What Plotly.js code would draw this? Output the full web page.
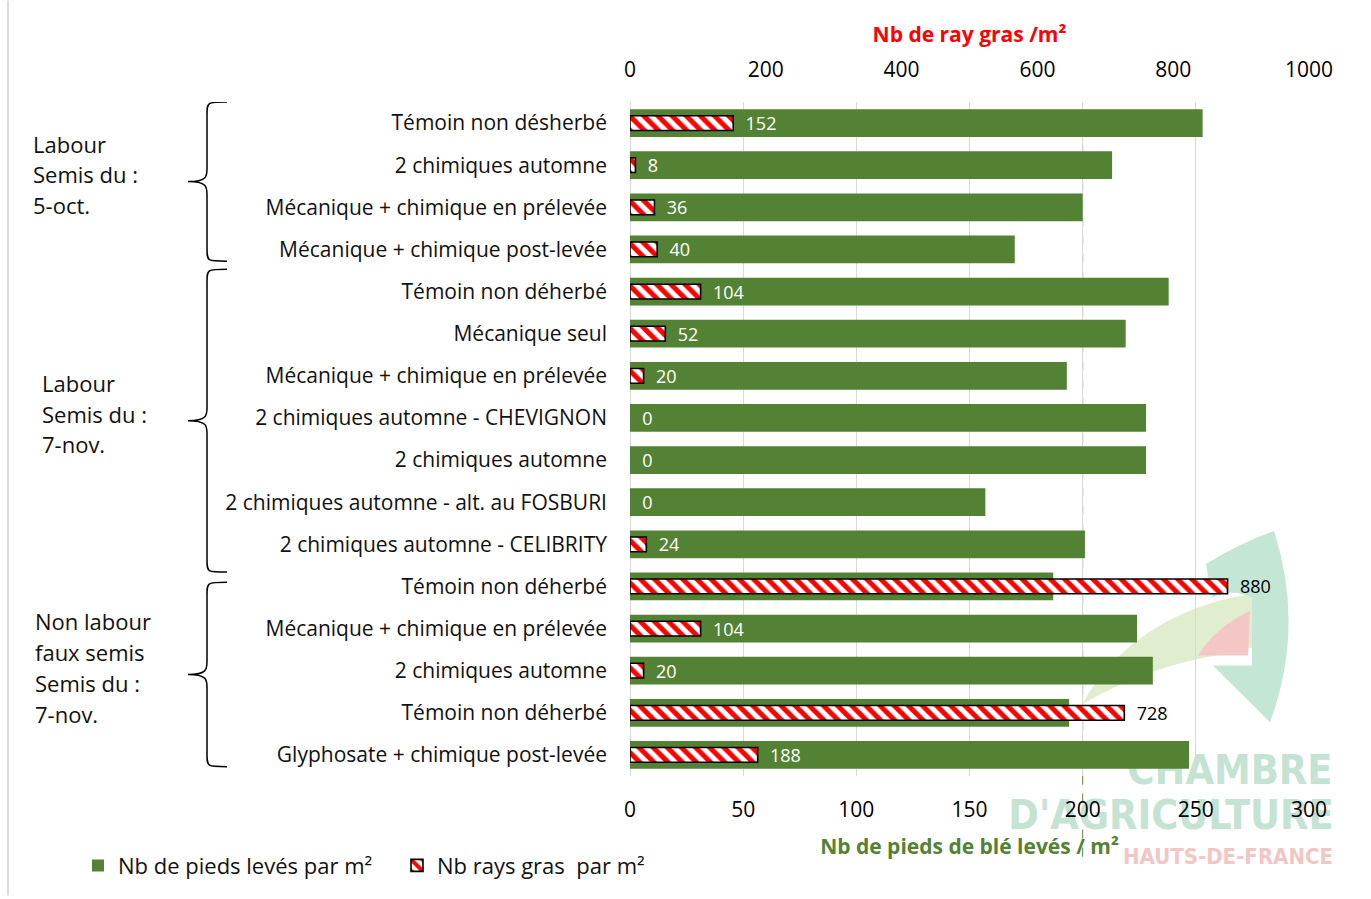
<!DOCTYPE html>
<html><head><meta charset="utf-8">
<script src="https://cdn.plot.ly/plotly-3.0.1.min.js"></script>
<style>html,body{margin:0;padding:0;background:#fff;}#chart{width:1371px;height:899px;}</style>
</head><body><div id="chart"></div>
<script>
// ---- data ----
const categories = [
  'Témoin non désherbé',
  '2 chimiques automne',
  'Mécanique + chimique en prélevée',
  'Mécanique + chimique post-levée',
  'Témoin non déherbé',
  'Mécanique seul',
  'Mécanique + chimique en prélevée',
  '2 chimiques automne - CHEVIGNON',
  '2 chimiques automne',
  '2 chimiques automne - alt. au FOSBURI',
  '2 chimiques automne - CELIBRITY',
  'Témoin non déherbé',
  'Mécanique + chimique en prélevée',
  '2 chimiques automne',
  'Témoin non déherbé',
  'Glyphosate + chimique post-levée'
];
const wheatPlants = [253, 213, 200, 170, 238, 219, 193, 228, 228, 157, 201, 187, 224, 231, 194, 247];
const ryeGrass = [152, 8, 36, 40, 104, 52, 20, 0, 0, 0, 24, 880, 104, 20, 728, 188];
const groupLabels = [
  ['Labour', 'Semis du :', '5-oct.'],
  ['Labour', 'Semis du :', '7-nov.'],
  ['Non labour', 'faux semis', 'Semis du :', '7-nov.']
];
const groupStart = [0, 4, 11];
const groupEnd = [3, 10, 15];
const wheatTicks = [0, 50, 100, 150, 200, 250, 300];
const ryeTicks = [0, 200, 400, 600, 800, 1000];
const wheatThreshold = 200;
const seriesNames = ['Nb de pieds levés par m²', 'Nb rays gras\u00a0 par m²'];
const axisTitles = ['Nb de pieds de blé levés / m²', 'Nb de ray gras /m²'];

// ---- layout helpers (pixel -> paper) ----
const W = 1371, H = 899, ML = 630, MR = 62, MT = 102, MB = 120;
const PW = W - ML - MR, PH = H - MT - MB;
const pxX = p => (p - ML) / PW;
const pxY = p => (H - MB - p) / PH;
const P = (x, y) => pxX(x).toFixed(4) + ',' + pxY(y).toFixed(4);
const unitPx = PH / categories.length;

const idx = categories.map((c, i) => i);
const FONT = 'Open Sans, sans-serif';
const GREEN = '#548235';

const textColors = ryeGrass.map((v, i) => (v / 1000 * 300 + 22 < wheatPlants[i]) ? 'white' : 'black');

const traces = [
  {
    type: 'bar', orientation: 'h', name: seriesNames[0],
    x: wheatPlants, y: idx, xaxis: 'x', yaxis: 'y', width: 0.66,
    marker: {color: GREEN}, hoverinfo: 'x'
  },
  {
    type: 'bar', orientation: 'h', name: seriesNames[1],
    x: ryeGrass, y: idx, xaxis: 'x2', yaxis: 'y', width: 0.35,
    marker: {color: 'white', line: {color: 'black', width: ryeGrass.map(v => v > 0 ? 1.6 : 0)},
      pattern: {shape: '\\', fgcolor: '#ff0000', bgcolor: 'white', size: 10, solidity: 0.5}},
    text: ryeGrass.map(v => '\u00a0\u00a0' + v),
    textposition: 'outside', constraintext: 'none', cliponaxis: false,
    textfont: {family: FONT, size: 18, color: textColors}, hoverinfo: 'x'
  }
];

// braces + group labels
const shapes = [];
const annotations = [];
const xLine = pxX(207), xHook = pxX(227), xTip = pxX(188);
const braceTopOff = [-0.5, -0.53, -0.1];
const braceBotOff = [0.28, 0.66, 0.28];
const labelX = [31, 40, 33];
const lineStep = 31 / unitPx;
groupStart.forEach((s, g) => {
  const top = s + braceTopOff[g], bot = groupEnd[g] + braceBotOff[g], mid = (top + bot) / 2;
  const k = 0.13, k2 = 0.3;
  const path = `M${xHook},${top} C${xLine},${top} ${xLine},${top} ${xLine},${top + k2} ` +
    `L${xLine},${mid - k2} C${xLine},${mid - k} ${xLine},${mid} ${xTip},${mid} ` +
    `C${xLine},${mid} ${xLine},${mid + k} ${xLine},${mid + k2} ` +
    `L${xLine},${bot - k2} C${xLine},${bot} ${xLine},${bot} ${xHook},${bot}`;
  shapes.push({type: 'path', xref: 'paper', yref: 'y', path: path, line: {color: 'black', width: 1.5}, layer: 'above'});
  const lines = groupLabels[g];
  const center = mid - 0.17;
  lines.forEach((t, j) => {
    annotations.push({xref: 'paper', yref: 'y', x: pxX(labelX[g]), y: center + (j - (lines.length - 1) / 2) * lineStep,
      xanchor: 'left', yanchor: 'middle', align: 'left', showarrow: false, text: t,
      font: {family: FONT, size: 22, color: '#111'}});
  });
});

// threshold dashed line
shapes.push({type: 'line', xref: 'x', yref: 'paper', x0: wheatThreshold, x1: wheatThreshold,
  y0: pxY(860), y1: pxY(145), line: {color: '#5f7f48', width: 1, dash: 'dash'}, layer: 'between'});

// left frame line
shapes.push({type: 'line', xref: 'paper', yref: 'paper', x0: pxX(8), x1: pxX(8), y0: pxY(899), y1: pxY(0),
  line: {color: '#d9d9d9', width: 2}, layer: 'below'});

// faint watermark logo (behind everything)
shapes.push({type: 'path', xref: 'paper', yref: 'paper', layer: 'below', line: {width: 0}, fillcolor: '#e0eecf',
  path: `M${P(1082, 707)} Q${P(1135, 615)} ${P(1252, 596)} L${P(1252, 650)} L${P(1222, 657)} Q${P(1150, 668)} ${P(1082, 707)} Z`});
shapes.push({type: 'path', xref: 'paper', yref: 'paper', layer: 'below', line: {width: 0}, fillcolor: '#c4e6d4',
  path: `M${P(1274, 533)} Q${P(1305, 630)} ${P(1270, 725)} L${P(1213, 668)} L${P(1252, 668)} L${P(1252, 600)} Q${P(1232, 590)} ${P(1212, 600)} L${P(1206, 566)} Q${P(1240, 545)} ${P(1274, 533)} Z`});
shapes.push({type: 'path', xref: 'paper', yref: 'paper', layer: 'below', line: {width: 0}, fillcolor: '#f4c6c6',
  path: `M${P(1250, 613)} Q${P(1215, 630)} ${P(1198, 658)} L${P(1248, 658)} Z`});
const wm = [
  ['CHAMBRE', 1230, 770, 41, '#c4e3d2'],
  ["D'AGRICULTURE", 1171, 815, 41, '#c4e3d2'],
  ['HAUTS-DE-FRANCE', 1228, 858, 22, '#f3c6c6']
];
wm.forEach(([t, cx, cy, fs, col]) => {
  shapes.push({type: 'rect', xref: 'paper', yref: 'paper', layer: 'below', line: {width: 0}, fillcolor: 'rgba(0,0,0,0)',
    x0: pxX(cx - 5), x1: pxX(cx + 5), y0: pxY(cy + 5), y1: pxY(cy - 5),
    label: {text: t, textposition: 'middle center', font: {family: 'DejaVu Sans Condensed, sans-serif', size: fs, color: col, weight: 'bold'}}});
});

const layout = {
  width: W, height: H,
  margin: {l: ML, r: MR, t: MT, b: MB, pad: 0},
  paper_bgcolor: 'white', plot_bgcolor: 'rgba(0,0,0,0)',
  font: {family: FONT, size: 20, color: 'black'},
  barmode: 'overlay',
  showlegend: true,
  legend: {orientation: 'h', x: pxX(78), xanchor: 'left', y: pxY(869), yanchor: 'middle',
    font: {family: FONT, size: 22, color: '#111'}, bgcolor: 'rgba(0,0,0,0)', traceorder: 'normal',
    entrywidth: 274, entrywidthmode: 'pixels'},
  xaxis: {
    range: [0, 300], tickvals: wheatTicks, showgrid: true, gridcolor: '#d9d9d9', gridwidth: 1,
    zeroline: true, zerolinecolor: '#d9d9d9', zerolinewidth: 1, showline: false, ticks: '',
    ticklabelstandoff: 19, tickfont: {family: FONT, size: 21, color: 'black'},
    title: {text: axisTitles[0], standoff: 17, font: {family: FONT, size: 21, color: GREEN, weight: 'bold'}},
    fixedrange: true
  },
  xaxis2: {
    range: [0, 1000], tickvals: ryeTicks, overlaying: 'x', side: 'top', anchor: 'y',
    showgrid: false, zeroline: false, showline: false, ticks: '',
    ticklabelstandoff: 20, tickfont: {family: FONT, size: 21, color: 'black'},
    title: {text: axisTitles[1], standoff: 6, font: {family: FONT, size: 21, color: '#ff0000', weight: 'bold'}},
    fixedrange: true
  },
  yaxis: {
    range: [15.5, -0.5], tickvals: idx, ticktext: categories, showgrid: false, zeroline: false,
    showline: false, ticks: '', ticklabelstandoff: 22,
    tickfont: {family: FONT, size: 21, color: '#111'}, fixedrange: true
  },
  shapes: shapes,
  annotations: annotations
};

Plotly.newPlot('chart', traces, layout, {displayModeBar: false, staticPlot: true});
</script></body></html>
